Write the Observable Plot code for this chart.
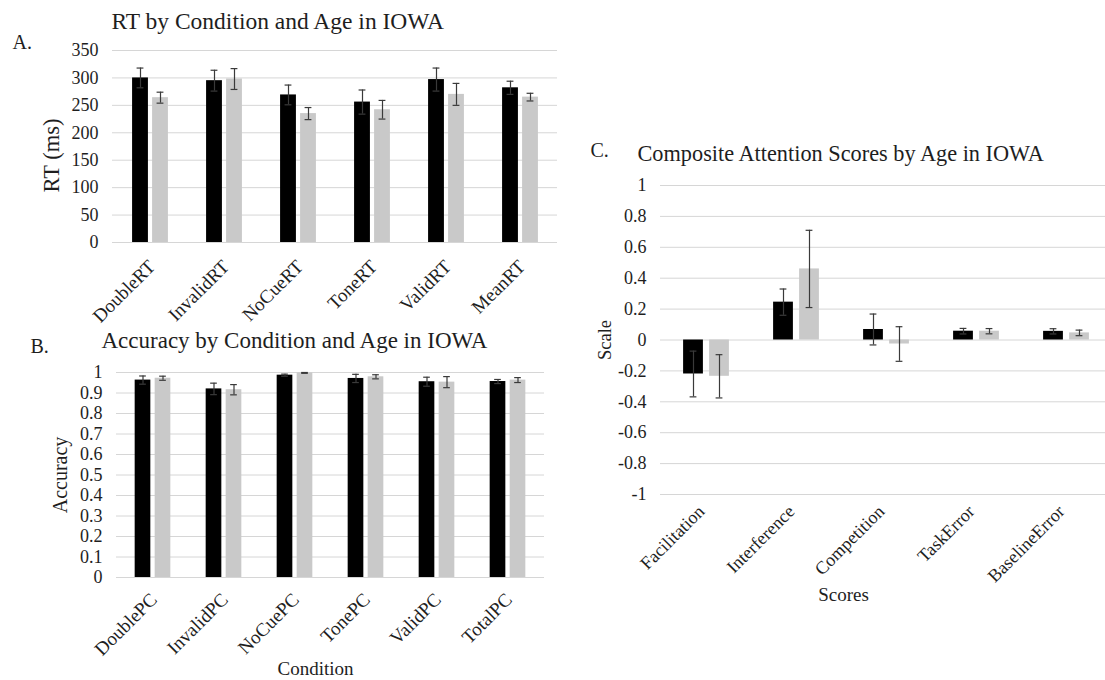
<!DOCTYPE html>
<html><head><meta charset="utf-8">
<script src="https://cdn.jsdelivr.net/npm/d3@7"></script>
<script src="https://cdn.jsdelivr.net/npm/@observablehq/plot@0.6"></script>
<style>
html,body{margin:0;padding:0;background:#fff;overflow:hidden;width:1105px;height:680px}
#wrap{position:relative;width:1105px;height:680px;overflow:hidden}
.panel{position:absolute;width:560px}
</style></head>
<body><div id="wrap">
<div class="panel" id="pa" style="left:0;top:0"></div>
<div class="panel" id="pb" style="left:0;top:330px"></div>
<div class="panel" id="pc" style="left:560px;top:150px"></div>
</div>
<script>
// ---------- data ----------
const ageGroups = ["Age group 1", "Age group 2"]; // black, grey

const rtConditions = ["DoubleRT", "InvalidRT", "NoCueRT", "ToneRT", "ValidRT", "MeanRT"];
const rtMeanAge1 = [300, 295, 269, 256, 297, 282];
const rtErrAge1  = [18, 19, 18, 22, 21, 12];
const rtMeanAge2 = [264, 298, 235, 242, 270, 265];
const rtErrAge2  = [10, 19, 11, 17, 20, 7];
const rtTicks = [0, 50, 100, 150, 200, 250, 300, 350];

const pcConditions = ["DoublePC", "InvalidPC", "NoCuePC", "TonePC", "ValidPC", "TotalPC"];
const pcMeanAge1 = [0.963, 0.920, 0.987, 0.971, 0.955, 0.956];
const pcErrAge1  = [0.020, 0.028, 0.005, 0.020, 0.022, 0.010];
const pcMeanAge2 = [0.972, 0.916, 0.998, 0.979, 0.953, 0.963];
const pcErrAge2  = [0.010, 0.025, 0.002, 0.010, 0.027, 0.012];
const pcTicks = [0, 0.1, 0.2, 0.3, 0.4, 0.5, 0.6, 0.7, 0.8, 0.9, 1];

const scoreNames = ["Facilitation", "Interference", "Competition", "TaskError", "BaselineError"];
const scoreAge1    = [-0.220, 0.245, 0.068, 0.057, 0.056];
const scoreErrAge1 = [0.148, 0.085, 0.100, 0.018, 0.017];
const scoreAge2    = [-0.235, 0.460, -0.026, 0.057, 0.046];
const scoreErrAge2 = [0.140, 0.250, 0.112, 0.017, 0.018];
const scoreTicks = [-1, -0.8, -0.6, -0.4, -0.2, 0, 0.2, 0.4, 0.6, 0.8, 1];

// ---------- helpers ----------
function rowsOf(cats, m1, e1, m2, e2) {
  const out = [];
  cats.forEach((c, i) => {
    out.push({cat: c, age: ageGroups[0], value: m1[i], err: e1[i]});
    out.push({cat: c, age: ageGroups[1], value: m2[i], err: e2[i]});
  });
  return out;
}
const fmt1 = d => String(Math.round(d * 10) / 10);
const FONT = "'Liberation Serif', 'Times New Roman', serif";
const INK = "#1e1e1e";

function panel(cfg) {
  const {cats, rows, yDomain, ticks, tickFormat, width, height, ml, mr, mt, mb,
         barW, gap, capW, tickPad, xFont, xDx, texts} = cfg;
  const bw = (width - ml - mr) / cats.length;
  const o = gap / 2 + barW / 2;
  const g1 = rows.filter(d => d.age === ageGroups[0]);
  const g2 = rows.filter(d => d.age === ageGroups[1]);
  const errStyle = {stroke: "#3a3a3a", strokeWidth: 1.2};
  const capMarks = (data, off) => [
    Plot.tickY(data, {x: "cat", y: d => d.value + d.err, insetLeft: bw / 2 + off - capW / 2, insetRight: bw / 2 - off - capW / 2, ...errStyle}),
    Plot.tickY(data, {x: "cat", y: d => d.value - d.err, insetLeft: bw / 2 + off - capW / 2, insetRight: bw / 2 - off - capW / 2, ...errStyle})
  ];
  return Plot.plot({
    width, height, marginLeft: ml, marginRight: mr, marginTop: mt, marginBottom: mb,
    style: {fontFamily: FONT, color: INK, background: "transparent", maxWidth: "none", overflow: "visible"},
    x: {type: "band", domain: cats, padding: 0, label: null},
    y: {domain: yDomain, label: null},
    marks: [
      Plot.gridY(ticks, {stroke: "#d6d6d6", strokeOpacity: 1, strokeWidth: 1}),
      Plot.barY(g1, {x: "cat", y: "value", fill: "#000000", insetLeft: bw / 2 - gap / 2 - barW, insetRight: bw / 2 + gap / 2}),
      Plot.barY(g2, {x: "cat", y: "value", fill: "#c9c9c9", insetLeft: bw / 2 + gap / 2, insetRight: bw / 2 - gap / 2 - barW}),
      Plot.ruleX(g1, {x: "cat", y1: d => d.value - d.err, y2: d => d.value + d.err, dx: -o, ...errStyle}),
      Plot.ruleX(g2, {x: "cat", y1: d => d.value - d.err, y2: d => d.value + d.err, dx: o, ...errStyle}),
      ...capMarks(g1, -o),
      ...capMarks(g2, o),
      Plot.axisY({ticks, tickSize: 0, tickPadding: 14, tickFormat, fontSize: 18, label: null}),
      Plot.axisX({tickRotate: -45, tickSize: 0, tickPadding: tickPad, fontSize: xFont, dx: xDx, label: null}),
      ...texts.map(t => Plot.text([t.text], {text: d => d, frameAnchor: t.frame, dx: t.dx, dy: t.dy,
        rotate: t.rotate || 0, textAnchor: t.anchor || "middle", lineAnchor: "middle", fontSize: t.size, fill: INK}))
    ]
  });
}

// ---------- panel A ----------
document.getElementById("pa").append(panel({
  cats: rtConditions,
  rows: rowsOf(rtConditions, rtMeanAge1, rtErrAge1, rtMeanAge2, rtErrAge2),
  yDomain: [0, 350], ticks: rtTicks, tickFormat: d => String(d),
  width: 560, height: 330, ml: 112, mr: 3, mt: 50, mb: 88,
  barW: 16, gap: 4, capW: 7, tickPad: 21, xFont: 19, xDx: 1.5,
  texts: [
    {text: "RT by Condition and Age in IOWA", frame: "top-left", dx: -1, dy: -29.4, anchor: "start", size: 23.5},
    {text: "A.", frame: "top-left", dx: -100, dy: -8.4, anchor: "start", size: 20},
    {text: "RT (ms)", frame: "left", dx: -61, dy: 9, rotate: -90, size: 22.5}
  ]
}));

// ---------- panel B ----------
document.getElementById("pb").append(panel({
  cats: pcConditions,
  rows: rowsOf(pcConditions, pcMeanAge1, pcErrAge1, pcMeanAge2, pcErrAge2),
  yDomain: [0, 1], ticks: pcTicks, tickFormat: fmt1,
  width: 560, height: 350, ml: 116, mr: 16, mt: 42, mb: 103,
  barW: 16, gap: 4, capW: 7, tickPad: 19, xFont: 19, xDx: 1,
  texts: [
    {text: "Accuracy by Condition and Age in IOWA", frame: "top-left", dx: -15, dy: -32, anchor: "start", size: 23},
    {text: "B.", frame: "top-left", dx: -86, dy: -26.4, anchor: "start", size: 20},
    {text: "Accuracy", frame: "left", dx: -55.5, dy: 0, rotate: -90, size: 20},
    {text: "Condition", frame: "bottom", dx: -15, dy: 91.6, size: 19}
  ]
}));

// ---------- panel C ----------
document.getElementById("pc").append(panel({
  cats: scoreNames,
  rows: rowsOf(scoreNames, scoreAge1, scoreErrAge1, scoreAge2, scoreErrAge2),
  yDomain: [-1, 1], ticks: scoreTicks, tickFormat: fmt1,
  width: 560, height: 460, ml: 100, mr: 9, mt: 35, mb: 116,
  barW: 20, gap: 6, capW: 7, tickPad: 14, xFont: 18, xDx: -5,
  texts: [
    {text: "Composite Attention Scores by Age in IOWA", frame: "top-left", dx: -23, dy: -32, anchor: "start", size: 22.3},
    {text: "C.", frame: "top-left", dx: -70, dy: -35, anchor: "start", size: 20},
    {text: "Scale", frame: "left", dx: -55.8, dy: 0, rotate: -90, size: 18.5},
    {text: "Scores", frame: "bottom", dx: -42.5, dy: 100, size: 19}
  ]
}));
</script>
</body></html>
